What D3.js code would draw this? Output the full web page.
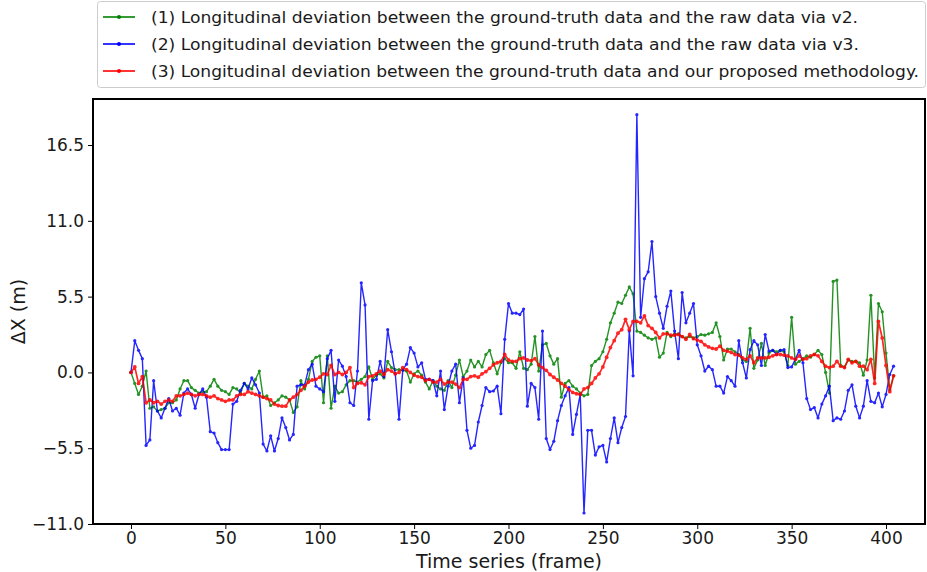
<!DOCTYPE html>
<html>
<head>
<meta charset="utf-8">
<script src="https://cdn.jsdelivr.net/npm/d3@7"></script>
<style>
  body { margin: 0; background: #fff; }
  text { font-family: "DejaVu Sans", sans-serif; fill: #1a1a1a; }
</style>
</head>
<body>
<div id="chart"></div>
<script>
// frame index of each sample (every 2nd frame)
const frames = d3.range(0, 405, 2);

// (1) v2 raw data
const devV2 = [
  0, -0.8, -1.6, -1.0, 0.1, -2.6, -2.5, -2.8, -2.7, -2.6,
  -2.2, -2.2, -2.0, -1.2, -0.6, -0.6, -1.1, -1.3, -1.5, -1.4,
  -1.4, -1.0, -0.5, -1.0, -1.3, -1.4, -1.6, -1.1, -1.2, -1.5,
  -0.8, -1.0, -1.2, -0.5, 0.1, -1.8, -1.7, -2.4, -2.2, -2.0,
  -1.7, -1.8, -2.0, -2.9, -2.5, -0.6, -1.2, -0.5, 0.8, 1.1,
  1.2, -2.2, 1.2, -2.6, -1.0, -1.5, -1.4, -0.9, -0.6, -0.6,
  -0.7, -0.5, -0.3, 0.4, -0.5, -0.2, -0.1, -0.4, 0.8, 0.35,
  0.2, 0.2, 0.15, 0.1, -0.7, -0.1, 0.1, -0.2, -0.7, -1.2,
  -0.6, -1.0, -1.2, -1.3, -0.6, -1.1, -0.2, 0.9, -0.3, 0.1,
  0.9, 0.4, 0.8, 0.4, 1.3, 1.6, 0.7, -0.1, 0.7, 1.0,
  0.7, 0.7, 0.3, 1.5, 0.3, 0.2, 0.6, 2.6, 0.1, 2.0,
  2.1, 1.2, 0.6, 1.0, -1.8, -0.8, -0.6, -1.0, -1.2, -1.5,
  -1.7, -1.6, 0.5, 0.8, 1.0, 1.5, 2.4, 3.6, 4.3, 5.1,
  5.0, 5.6, 6.2, 5.7, 3.0, 2.9, 2.7, 2.5, 2.4, 2.5,
  1.1, 1.4, 2.9, 2.6, 2.8, 2.8, 2.6, 2.5, 2.6, 2.5,
  2.6, 2.75, 2.7, 2.8, 2.9, 3.6, 2.6, 0.9, 1.7, 1.7,
  1.5, 1.3, 0.9, 0.8, 3.2, 0.3, 0.9, 2.1, 0.5, 1.4,
  1.6, 1.5, 1.6, 1.5, 0.5, 4.0, 0.6, 0.8, 1.0, 1.2,
  1.1, 1.3, 1.6, 1.3, 0.0, -1.5, 6.6, 6.7, 0.5, 0.4,
  0.9, 0.8, 0.8, 0.7, -0.2, 0.9, 5.6, -0.4, 5.0, 4.4,
  1.4, -1.25, -0.25
];

// (2) v3 raw data
const devV3 = [
  0, 2.3, 1.6, 1.0, -5.3, -4.9, -0.6, -2.8, -3.3, -2.6,
  -1.9, -2.8, -2.6, -3.1, -1.5, -1.2, -1.6, -2.6, -1.6, -1.2,
  -1.8, -4.3, -4.4, -5.1, -5.6, -5.6, -5.6, -2.3, -2.1, -1.3,
  -0.8, -1.2, -0.4, -0.9, -1.5, -5.2, -5.7, -4.6, -5.7, -4.8,
  -3.3, -4.0, -4.9, -4.5, -1.0, -0.9, -0.9, 0.2, 0.6, -1.0,
  -1.2, -1.4, 1.0, 1.6, -2.1, 0.9, 0.45, -0.3, -2.2, -2.4,
  0.1, 6.5, 4.9, -3.4, -0.6, -0.5, 0.8, -0.3, 3.1, 1.5,
  -0.1, -3.4, 0.2, 0.6, 1.8, 1.4, 0.4, 0.7, -0.5, -0.5,
  -0.6, -1.7, 0.1, -2.7, -1.0, 0.1, 0.6, -2.2, -0.4, -4.2,
  -5.5, -5.3, -3.6, -2.4, -1.1, -1.4, -1.35, -1.0, -3.0, 2.4,
  5.0, 4.3, 4.3, 4.2, 4.6, -2.45, -0.8, -1.1, -3.4, 3.0,
  -4.8, -5.6, -5.0, -3.5, -2.4, -1.7, -1.1, -4.5, -3.05, -1.6,
  -10.2, -4.2, -4.2, -6.0, -5.4, -5.3, -6.5, -4.8, -3.3, -5.1,
  -4.0, -3.2, 3.0, -0.25, 18.7, 4.0, 6.8, 7.3, 9.5, 5.5,
  4.3, 3.2, 4.8, 5.9, 3.0, 1.0, 5.8, 3.6, 4.3, 5.0,
  2.0, 1.2, 0.1, 0.45, 0.2, -1.0, -1.0, -1.5, -0.3, -0.6,
  -1.0, 2.3, 0.7, -0.4, 1.65, 2.3, 2.0, 0.5, 2.75, 1.55,
  1.6, 1.3, 1.6, 1.65, 0.35, 0.4, 0.95, 1.6, 0.7, -1.9,
  -2.7, -2.55, -3.3, -2.3, -1.7, -1.0, -3.5, -3.3, -3.4, -2.8,
  -1.3, -0.9, -2.45, -3.3, -2.45, -0.6, -2.1, -2.2, -1.5, -2.5,
  -1.6, -0.15, 0.45
];

// (3) proposed methodology
const devOurs = [
  0, 0.4, -0.8, -0.3, -2.2, -2.0, -2.2, -2.1, -2.3, -2.1,
  -2.0, -2.1, -1.7, -1.7, -1.6, -1.5, -1.6, -1.7, -1.6, -1.6,
  -1.7, -1.8, -1.7, -1.9, -2.0, -2.1, -2.0, -2.0, -1.7, -1.6,
  -1.6, -1.4, -1.5, -1.6, -1.7, -1.8, -1.9, -2.0, -2.3, -2.4,
  -2.45, -2.45, -2.0, -1.8, -1.6, -1.3, -1.0, -0.7, -0.55, -0.5,
  -0.35, -0.1, -0.15, 0.5, -0.15, 0.0, -0.15, 0.0, 0.35, -1.1,
  -0.8, -0.75, -0.9, -0.3, -0.25, -0.1, 0.1, -0.15, 0.2, 0.1,
  -0.1, 0.0, 0.35, 0.2, 0.0, -0.2, -0.3, -0.35, -0.6, -0.5,
  -0.7, -0.7, -0.5, -0.85, -0.7, -0.7, -0.85, -1.1, -0.5, -0.5,
  -0.3, -0.25, -0.35, -0.1, 0.05, 0.3, 0.55, 0.7, 0.8, 1.3,
  0.9, 0.8, 0.8, 1.0, 1.05, 0.9, 0.85, 1.0, 0.55, 0.35,
  0.15, -0.15, -0.35, -0.55, -0.8, -1.0, -1.25, -1.45, -1.55, -1.6,
  -1.2, -1.1, -0.8, -0.4, -0.1, 0.4, 1.1, 1.8, 2.3, 2.85,
  3.1, 3.85, 3.1, 3.7, 3.7, 3.6, 4.1, 3.4, 3.2, 2.9,
  2.5, 2.8, 2.8, 2.7, 2.7, 2.75, 2.6, 2.4, 2.75, 2.45,
  2.35, 2.25, 2.0, 1.85, 1.75, 1.7, 1.9, 1.6, 1.55, 1.45,
  1.3, 1.25, 1.05, 0.95, 1.2, 0.7, 1.05, 1.05, 1.05, 1.1,
  1.2, 1.3, 1.3, 1.25, 1.2, 1.05, 0.95, 1.2, 0.95, 1.0,
  1.2, 1.3, 1.2, 0.8, 0.45, 0.35, 0.45, 0.8, 0.45, 0.35,
  0.95, 0.7, 0.8, 0.45, 0.45, 0.2, 0.95, -0.8, 3.7, 2.5,
  0.5, -1.4, -0.25
];

const seriesLabels = [
  "(1) Longitudinal deviation between the ground-truth data and the raw data via v2.",
  "(2) Longitudinal deviation between the ground-truth data and the raw data via v3.",
  "(3) Longitudinal deviation between the ground-truth data and our proposed methodology."
];
const seriesColors = ["#008000", "#0000ff", "#ff0000"];
const xTicks = [0, 50, 100, 150, 200, 250, 300, 350, 400];
const yTicks = [-11, -5.5, 0, 5.5, 11, 16.5];

const W = 927, H = 572;
const plot = { left: 93, right: 925, top: 99, bottom: 524 };

const svg = d3.select("#chart").append("svg")
  .attr("width", W).attr("height", H)
  .attr("viewBox", [0, 0, W, H]);

const x = d3.scaleLinear().domain([-20.13, 420.66]).range([plot.left, plot.right]);
const y = d3.scaleLinear().domain([-11, 19.84]).range([plot.bottom, plot.top]);

// axes
const fmt = d => d3.format(".1f")(d).replace("-", "\u2212");
const xAxis = svg.append("g")
  .attr("transform", `translate(0,${plot.bottom})`)
  .call(d3.axisBottom(x).tickValues(xTicks).tickSize(5).tickPadding(3));
const yAxis = svg.append("g")
  .attr("transform", `translate(${plot.left},0)`)
  .call(d3.axisLeft(y).tickValues(yTicks).tickFormat(fmt).tickSize(5).tickPadding(4));
[xAxis, yAxis].forEach(a => {
  a.select(".domain").remove();
  a.selectAll("text").style("font-size", "17px").attr("fill", "#1a1a1a");
  a.selectAll("line").attr("stroke", "#000").attr("stroke-width", 1);
});

// lines
svg.append("clipPath").attr("id", "clip")
  .append("rect").attr("x", plot.left).attr("y", plot.top)
  .attr("width", plot.right - plot.left).attr("height", plot.bottom - plot.top);

const series = [devV2, devV3, devOurs];
const line = d3.line().x((d, i) => x(frames[i])).y(d => y(d));
const gLines = svg.append("g").attr("clip-path", "url(#clip)");
series.forEach((vals, k) => {
  const g = gLines.append("g").attr("opacity", 0.85);
  g.append("path").datum(vals)
    .attr("d", line)
    .attr("fill", "none")
    .attr("stroke", seriesColors[k])
    .attr("stroke-width", k == 2 ? 1.7 : 1.4)
    .attr("stroke-linejoin", "round");
  g.selectAll("circle").data(vals).join("circle")
    .attr("cx", (d, i) => x(frames[i]))
    .attr("cy", d => y(d))
    .attr("r", k == 2 ? 1.9 : 1.6)
    .attr("fill", seriesColors[k]);
});

// frame
svg.append("rect")
  .attr("x", plot.left).attr("y", plot.top)
  .attr("width", plot.right - plot.left).attr("height", plot.bottom - plot.top)
  .attr("fill", "none").attr("stroke", "#000").attr("stroke-width", 2);

// axis titles
svg.append("text")
  .attr("x", (plot.left + plot.right) / 2).attr("y", 568)
  .attr("text-anchor", "middle").style("font-size", "19px")
  .text("Time series (frame)");
svg.append("text")
  .attr("transform", `translate(25,${(plot.top + plot.bottom) / 2}) rotate(-90)`)
  .attr("text-anchor", "middle").style("font-size", "19px")
  .text("\u0394X (m)");

// legend
const legend = svg.append("g");
legend.append("rect")
  .attr("x", 97.5).attr("y", 1.5).attr("width", 828).attr("height", 86)
  .attr("rx", 3).attr("fill", "#fff").attr("stroke", "#cccccc");
const legendWidths = [707, 708, 768];
seriesLabels.forEach((lab, k) => {
  const ly = 17 + k * 27;
  legend.append("line")
    .attr("x1", 103).attr("x2", 135).attr("y1", ly).attr("y2", ly)
    .attr("stroke", seriesColors[k]).attr("stroke-width", 1.6);
  legend.append("circle").attr("cx", 119).attr("cy", ly).attr("r", 2)
    .attr("fill", seriesColors[k]);
  legend.append("text")
    .attr("x", 151).attr("y", ly + 5.5)
    .style("font-size", "16px")
    .attr("textLength", legendWidths[k])
    .attr("lengthAdjust", "spacingAndGlyphs")
    .text(lab);
});
</script>
</body>
</html>
